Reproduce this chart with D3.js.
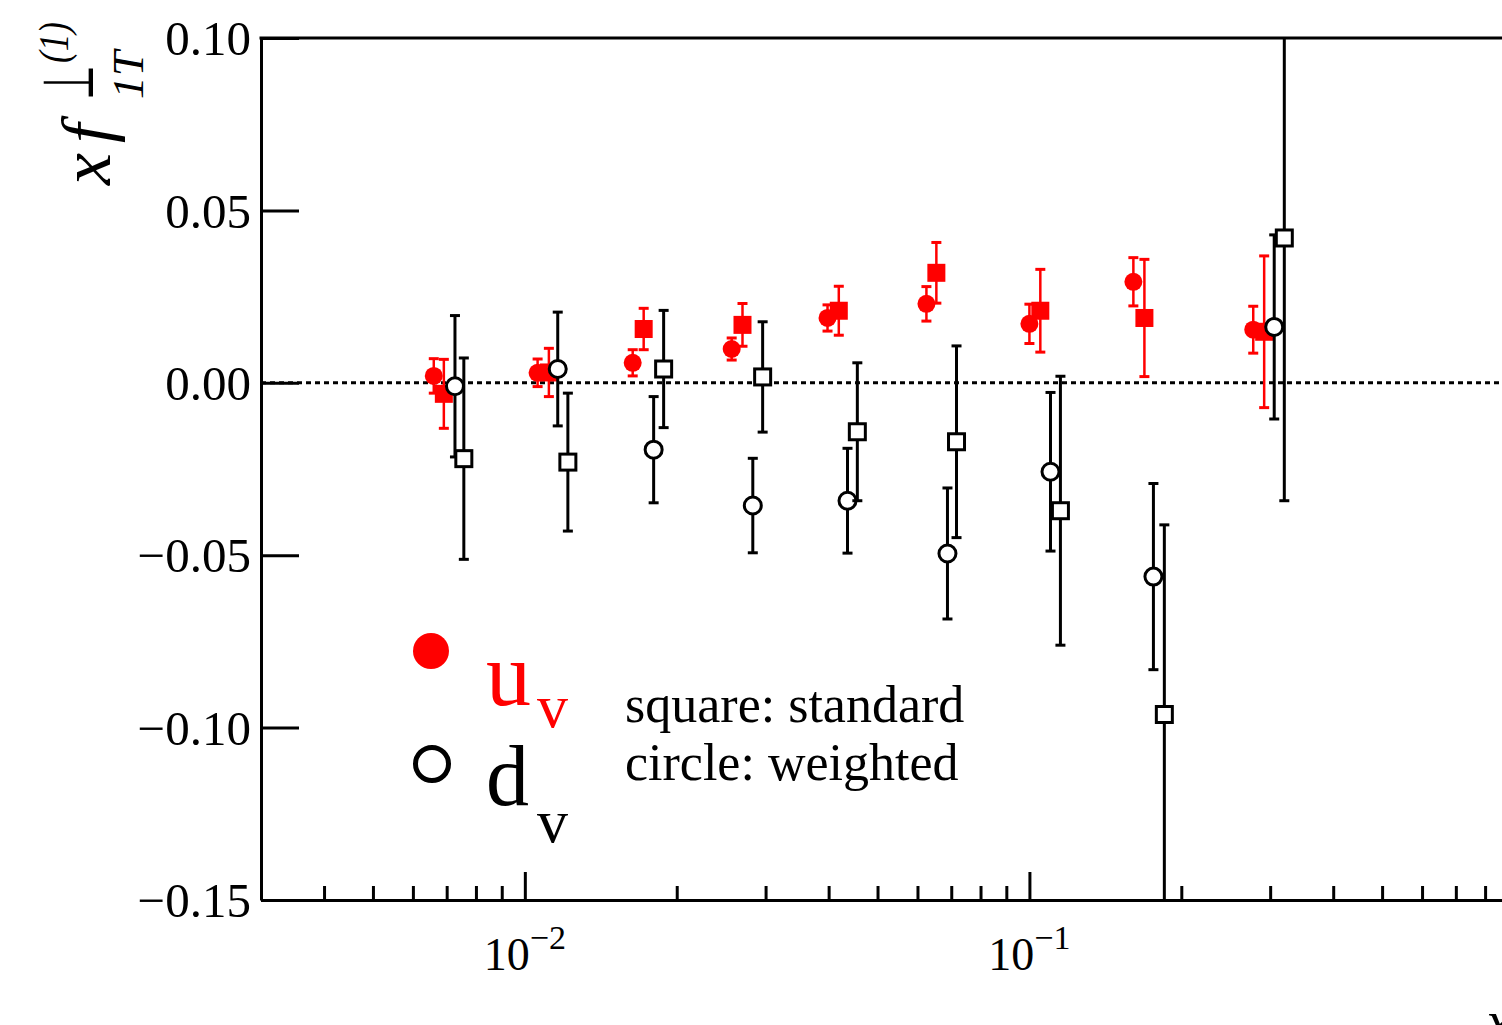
<!DOCTYPE html>
<html><head><meta charset="utf-8">
<script src="https://cdn.jsdelivr.net/npm/d3@7"></script>
<style>html,body{margin:0;padding:0;background:#fff;overflow:hidden}</style>
</head><body><svg id="chart" width="1502" height="1025"></svg>
<script>
// ---- data ----
// u_v, weighted (red filled circles)
const uWeightedX   = [0.0066, 0.0106, 0.01636, 0.0257, 0.0398, 0.0625, 0.1000, 0.1607, 0.2777];
const uWeightedY   = [0.0020, 0.0029, 0.0058, 0.0098, 0.0188, 0.0229, 0.0171, 0.0293, 0.0154];
const uWeightedErr = [0.0050, 0.0040, 0.0038, 0.0032, 0.0038, 0.0050, 0.0057, 0.0070, 0.0068];
// u_v, standard (red filled squares)
const uStandardX   = [0.00691, 0.01116, 0.0172, 0.0270, 0.0419, 0.0654, 0.1051, 0.1690, 0.2919];
const uStandardY   = [-0.0032, 0.0030, 0.0156, 0.0168, 0.0209, 0.0319, 0.0209, 0.0188, 0.0148];
const uStandardErr = [0.0100, 0.0070, 0.0060, 0.0062, 0.0071, 0.0088, 0.0120, 0.0170, 0.0220];
// d_v, weighted (open circles)
const dWeightedX   = [0.00727, 0.01162, 0.0180, 0.0283, 0.0436, 0.0688, 0.1101, 0.1761, 0.3056];
const dWeightedY   = [-0.0010, 0.0040, -0.0194, -0.0356, -0.0342, -0.0495, -0.0258, -0.0562, 0.0162];
const dWeightedErr = [0.0205, 0.0165, 0.0154, 0.0137, 0.0152, 0.0190, 0.0230, 0.0270, 0.0267];
// d_v, standard (open squares)
const dStandardX   = [0.00757, 0.01217, 0.01884, 0.0296, 0.0456, 0.0717, 0.1152, 0.1851, 0.3200];
const dStandardY   = [-0.0220, -0.0230, 0.0040, 0.0017, -0.0142, -0.0171, -0.0371, -0.0962, 0.0420];
const dStandardErr = [0.0292, 0.0200, 0.0170, 0.0160, 0.0200, 0.0278, 0.0390, 0.0550, 0.0762];

const yTickValues = [-0.15, -0.10, -0.05, 0.00, 0.05, 0.10];
const yTickLabels = ["\u22120.15", "\u22120.10", "\u22120.05", "0.00", "0.05", "0.10"];
const xMajorTicks = [0.01, 0.1, 1];
const xLabelTicks = [0.01, 0.1];
const xMajorBase  = ["10", "10"];
const xMajorExp   = ["\u22122", "\u22121"];
const xMinorTicks = [0.004,0.005,0.006,0.007,0.008,0.009,0.02,0.03,0.04,0.05,0.06,0.07,0.08,0.09,0.2,0.3,0.4,0.5,0.6,0.7,0.8,0.9];
const legendText  = ["square: standard", "circle: weighted"];

// ---- layout ----
const L = 261, R = 1534, T = 38, B = 900;
const svg = d3.select("#chart");
const x = d3.scaleLog().domain([0.003, 1]).range([L, R]);
const y = d3.scaleLinear().domain([-0.15, 0.10]).range([B, T]);
const FONT = "'Liberation Serif','Times New Roman','DejaVu Serif',serif";

svg.append("defs").append("clipPath").attr("id","plotclip")
  .append("rect").attr("x", L).attr("y", T).attr("width", R - L).attr("height", B - T);

// zero line
svg.append("line").attr("x1", L).attr("x2", R).attr("y1", y(0)).attr("y2", y(0))
  .attr("stroke", "#000").attr("stroke-width", 3).attr("stroke-dasharray", "5,4");

// axes
const xMajor = svg.append("g").attr("transform", `translate(0,${B})`)
  .call(d3.axisBottom(x).tickValues(xMajorTicks).tickSize(-28).tickSizeOuter(0).tickFormat(""));
const xMinor = svg.append("g").attr("transform", `translate(0,${B})`)
  .call(d3.axisBottom(x).tickValues(xMinorTicks).tickSize(-14).tickSizeOuter(0).tickFormat(""));
const yAx = svg.append("g").attr("transform", `translate(${L},0)`)
  .call(d3.axisLeft(y).tickValues(yTickValues).tickSize(-38).tickSizeOuter(0).tickPadding(10)
    .tickFormat((d, i) => yTickLabels[i]));
[xMajor, xMinor, yAx].forEach(g => {
  g.selectAll("path.domain").attr("stroke", "#000").attr("stroke-width", 3);
  g.selectAll(".tick line").attr("stroke", "#000").attr("stroke-width", 3);
});
yAx.selectAll(".tick text").attr("font-family", FONT).attr("font-size", 49)
  .attr("fill", "#000").attr("dy", "0.34em");
// top frame line
svg.append("line").attr("x1", L - 1.5).attr("x2", R).attr("y1", T).attr("y2", T)
  .attr("stroke", "#000").attr("stroke-width", 3);

// x major labels 10^n
xLabelTicks.forEach((v, i) => {
  const t = svg.append("text").attr("x", x(v)).attr("y", 970).attr("text-anchor", "middle")
    .attr("font-family", FONT).attr("font-size", 46).attr("fill", "#000");
  t.append("tspan").text(xMajorBase[i]);
  t.append("tspan").attr("dy", -21).attr("font-size", 34).text(xMajorExp[i]);
});
// x axis title (mostly outside view, as in the reference)
svg.append("text").attr("x", 1486).attr("y", 1040).attr("font-family", FONT)
  .attr("font-style", "italic").attr("font-size", 56).text("x");

// y axis title  x f⊥_{1T}^{(1)}
const yt = svg.append("g").attr("transform", "translate(110,185) rotate(-90)")
  .attr("font-family", FONT).attr("fill", "#000");
yt.append("text").attr("x", 0).attr("y", 0).attr("font-style", "italic").attr("font-size", 72).text("x");
yt.append("text").attr("x", 42).attr("y", 0).attr("font-style", "italic").attr("font-size", 70).text("f");
// size the perpendicular sign so its ink is ~50px tall
const PERP_FONT = "'DejaVu Sans'";
let perpSize = 70, perpDesc = 0;
try {
  const ctx = document.createElement("canvas").getContext("2d");
  ctx.font = `100px ${PERP_FONT}`;
  const m = ctx.measureText("\u22A5");
  const ink = m.actualBoundingBoxAscent + m.actualBoundingBoxDescent;
  if (ink > 5) { perpSize = 100 * 50 / ink; perpDesc = m.actualBoundingBoxDescent * perpSize / 100; }
} catch (e) {}
yt.append("text").attr("x", 85).attr("y", -17 - perpDesc).attr("font-family", PERP_FONT)
  .attr("font-size", perpSize).attr("textLength", 35).attr("lengthAdjust", "spacingAndGlyphs").text("\u22A5");
yt.append("text").attr("x", 86).attr("y", 33).attr("font-style", "italic").attr("font-size", 44)
  .attr("textLength", 48).attr("lengthAdjust", "spacingAndGlyphs").text("1T");
yt.append("text").attr("x", 122).attr("y", -42).attr("font-style", "italic").attr("font-size", 42)
  .attr("textLength", 41).attr("lengthAdjust", "spacingAndGlyphs").text("(1)");

// ---- data marks ----
const plot = svg.append("g").attr("clip-path", "url(#plotclip)");
function zip(xs, ys, es) { return xs.map((v, i) => ({ x: v, y: ys[i], e: es[i] })); }

function errorBars(data, color, width) {
  const g = plot.append("g").attr("stroke", color).attr("stroke-width", width);
  g.selectAll("line.v").data(data).join("line")
    .attr("x1", d => x(d.x)).attr("x2", d => x(d.x))
    .attr("y1", d => y(d.y + d.e)).attr("y2", d => y(d.y - d.e));
  g.selectAll("line.top").data(data).join("line")
    .attr("x1", d => x(d.x) - 5).attr("x2", d => x(d.x) + 5)
    .attr("y1", d => y(d.y + d.e)).attr("y2", d => y(d.y + d.e)).attr("stroke-width", 3);
  g.selectAll("line.bot").data(data).join("line")
    .attr("x1", d => x(d.x) - 5).attr("x2", d => x(d.x) + 5)
    .attr("y1", d => y(d.y - d.e)).attr("y2", d => y(d.y - d.e)).attr("stroke-width", 3);
}
function circles(data, fill, stroke, r, sw) {
  plot.append("g").selectAll("circle").data(data).join("circle")
    .attr("cx", d => x(d.x)).attr("cy", d => y(d.y)).attr("r", r)
    .attr("fill", fill).attr("stroke", stroke).attr("stroke-width", sw);
}
function squares(data, fill, stroke, s, sw) {
  plot.append("g").selectAll("rect").data(data).join("rect")
    .attr("x", d => x(d.x) - s / 2).attr("y", d => y(d.y) - s / 2)
    .attr("width", s).attr("height", s)
    .attr("fill", fill).attr("stroke", stroke).attr("stroke-width", sw);
}

const uW = zip(uWeightedX, uWeightedY, uWeightedErr);
const uS = zip(uStandardX, uStandardY, uStandardErr);
const dW = zip(dWeightedX, dWeightedY, dWeightedErr);
const dS = zip(dStandardX, dStandardY, dStandardErr);

errorBars(uW, "#ff0000", 2.5); circles(uW, "#ff0000", "none", 9, 0);
errorBars(uS, "#ff0000", 2.5); squares(uS, "#ff0000", "none", 18, 0);
errorBars(dW, "#000", 3); circles(dW, "#fff", "#000", 8.5, 3);
errorBars(dS, "#000", 3); squares(dS, "#fff", "#000", 16, 3);

// ---- legend ----
svg.append("circle").attr("cx", 431).attr("cy", 651).attr("r", 18).attr("fill", "#ff0000");
svg.append("circle").attr("cx", 432).attr("cy", 764).attr("r", 16.5).attr("fill", "#fff")
  .attr("stroke", "#000").attr("stroke-width", 5);
svg.append("text").attr("x", 486).attr("y", 705).attr("font-family", FONT).attr("font-size", 90)
  .attr("fill", "#ff0000").text("u");
svg.append("text").attr("x", 537).attr("y", 727).attr("font-family", FONT).attr("font-size", 62)
  .attr("fill", "#ff0000").text("v");
svg.append("text").attr("x", 486).attr("y", 805).attr("font-family", FONT).attr("font-size", 86)
  .attr("fill", "#000").text("d");
svg.append("text").attr("x", 537).attr("y", 842).attr("font-family", FONT).attr("font-size", 62)
  .attr("fill", "#000").text("v");
legendText.forEach((t, i) => {
  svg.append("text").attr("x", 625).attr("y", 722 + i * 58).attr("font-family", FONT)
    .attr("font-size", 52).attr("fill", "#000").text(t);
});
</script></body></html>
